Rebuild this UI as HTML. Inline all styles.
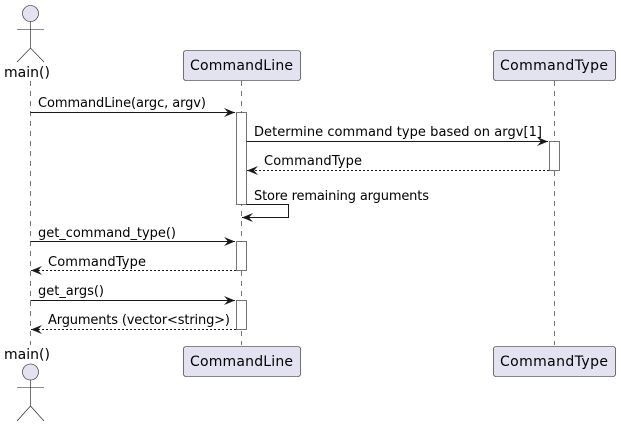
<!DOCTYPE html>
<html><head><meta charset="utf-8"><style>
html,body{margin:0;padding:0;background:#fff;}
svg{display:block;}
text{font-family:"DejaVu Sans","Liberation Sans",sans-serif;fill:#000;}
</style></head><body>
<svg width="621" height="427" viewBox="0 0 621 427" xmlns="http://www.w3.org/2000/svg">
<defs>
<marker id="a" markerWidth="12" markerHeight="10" refX="11" refY="5" orient="auto" markerUnits="userSpaceOnUse">
<path d="M0,0.5 L11,5 L0,9.5 L4,5 Z" fill="#181818"/>
</marker>
</defs>
<g stroke="#181818" stroke-width="0.6" stroke-dasharray="5,5">
<line x1="30.5" y1="81" x2="30.5" y2="345"/>
<line x1="241.5" y1="81" x2="241.5" y2="345"/>
<line x1="554.5" y1="81" x2="554.5" y2="345"/>
</g>
<g fill="#E2E2F0" stroke="#181818" stroke-width="0.6">
<circle cx="30.5" cy="13.5" r="8"/>
<circle cx="30.5" cy="372" r="8"/>
</g>
<g stroke="#181818" stroke-width="0.6" fill="none">
<path d="M30.5 21.5V48 M17 29.5H44 M17 62L30.5 48L44 62"/>
<path d="M30.5 380V406 M17 387.5H44 M17 421L30.5 406L44 421"/>
</g>
<text x="4" y="77" font-size="14">main()</text>
<text x="4" y="359" font-size="14">main()</text>
<g fill="#E2E2F0" stroke="#181818" stroke-width="0.6">
<rect x="183.5" y="50.5" width="117" height="30" rx="2.5"/>
<rect x="493.5" y="50.5" width="122" height="30" rx="2.5"/>
<rect x="183.5" y="346.5" width="117" height="30" rx="2.5"/>
<rect x="493.5" y="346.5" width="122" height="30" rx="2.5"/>
</g>
<g font-size="14">
<text x="190" y="70" textLength="103">CommandLine</text>
<text x="500" y="70" textLength="108">CommandType</text>
<text x="190" y="366" textLength="103">CommandLine</text>
<text x="500" y="366" textLength="108">CommandType</text>
</g>
<g fill="#fff" stroke="#181818" stroke-width="0.6">
<rect x="236.5" y="112.5" width="10" height="92"/>
<rect x="549.5" y="141.5" width="10" height="29"/>
<rect x="236.5" y="241.5" width="10" height="29"/>
<rect x="236.5" y="300.5" width="10" height="29"/>
</g>
<g stroke="#181818" stroke-width="1" fill="none">
<line x1="30.5" y1="112.5" x2="235" y2="112.5" marker-end="url(#a)"/>
<line x1="246.5" y1="141.5" x2="548" y2="141.5" marker-end="url(#a)"/>
<line x1="549" y1="170.5" x2="247" y2="170.5" stroke-dasharray="2,2" marker-end="url(#a)"/>
<path d="M246.5 204.5H288.5V217.5H242" marker-end="url(#a)"/>
<line x1="30.5" y1="241.5" x2="235" y2="241.5" marker-end="url(#a)"/>
<line x1="236" y1="270.5" x2="31" y2="270.5" stroke-dasharray="2,2" marker-end="url(#a)"/>
<line x1="30.5" y1="300.5" x2="235" y2="300.5" marker-end="url(#a)"/>
<line x1="236" y1="329.5" x2="31" y2="329.5" stroke-dasharray="2,2" marker-end="url(#a)"/>
</g>
<g font-size="13">
<text x="38" y="107" textLength="168">CommandLine(argc, argv)</text>
<text x="254" y="136" textLength="288">Determine command type based on argv[1]</text>
<text x="264" y="165" textLength="98">CommandType</text>
<text x="254" y="200" textLength="175">Store remaining arguments</text>
<text x="38" y="237" textLength="138">get_command_type()</text>
<text x="48" y="266" textLength="98">CommandType</text>
<text x="38" y="295" textLength="66">get_args()</text>
<text x="48" y="324" textLength="182">Arguments (vector&lt;string&gt;)</text>
</g>
</svg>
</body></html>
